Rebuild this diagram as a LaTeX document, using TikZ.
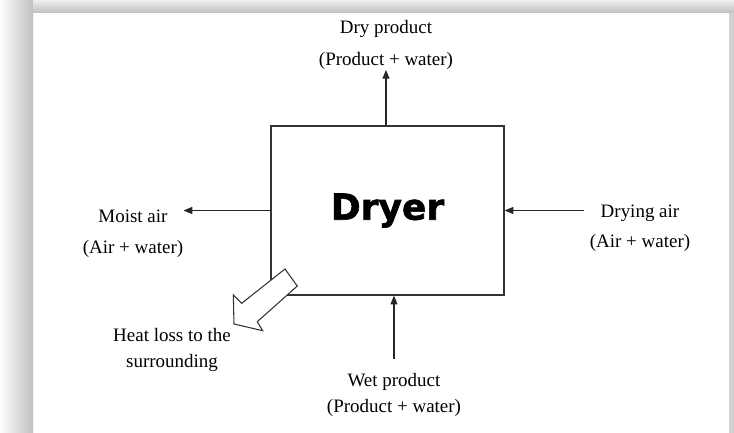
\documentclass[tikz,border=0pt]{standalone}
\usepackage{fontspec}
\setmainfont{Liberation Serif}
\newfontfamily\dryerfont{DejaVu Sans}[BoldFeatures={FakeBold=1.6}]
\usetikzlibrary{arrows.meta, positioning}

\begin{document}
\begin{tikzpicture}[
    lbl/.style={align=center, inner sep=0pt, font=\fontsize{10.8}{14.8}\selectfont},
    flow/.style={-{Triangle[length=5pt,width=4pt]}, line width=0.6pt, black!85}
  ]
  \useasboundingbox (0,0) rectangle (14.68,8.66);

  % Page shadow
  \shade[left color=white, right color=gray!50] (0,0) rectangle (0.66,8.66);
  \shade[top color=gray!12, bottom color=gray!50] (0.66,8.40) rectangle (14.68,8.66);
  \fill[gray!35] (14.58,0) rectangle (14.68,8.40);

  % Dryer
  \node[draw=black!80, line width=0.7pt, minimum width=4.66cm, minimum height=3.38cm,
        font=\dryerfont\bfseries\fontsize{20.5}{24}\selectfont] (dryer) at (7.75,4.45) {Dryer};

  % Streams
  \node[lbl] (dry) at (7.72,7.76) {Dry product\\[3.4pt](Product + water)};
  \node[lbl] (moist) at (2.66,3.99) {Moist air\\[2.8pt](Air + water)};
  \node[lbl] (drying) at (12.80,4.10) {Drying air\\[2.3pt](Air + water)};
  \node[lbl] (wet) at (7.88,0.76) {Wet product\\(Product + water)};
  \node[lbl] (heat) at (3.44,1.66) {Heat loss to the\\surrounding};

  \draw[flow] (dryer.north -| dry.south) -- (dry.south);
  \draw[flow] (dryer.west) -- (dryer.west -| moist.east);
  \draw[flow, shorten <=3pt] (drying.west |- dryer.east) -- (dryer.east);
  \draw[flow, shorten <=8pt] (wet.north) -- (wet.north |- dryer.south);

  % Heat loss
  \draw[black!80, line width=0.6pt, fill=white, line join=miter]
    (5.70,3.28) -- (5.946,2.94) -- (5.146,2.226) -- (5.254,2.046)
    -- (4.68,2.18) -- (4.666,2.76) -- (4.834,2.594) -- cycle;
\end{tikzpicture}
\end{document}
